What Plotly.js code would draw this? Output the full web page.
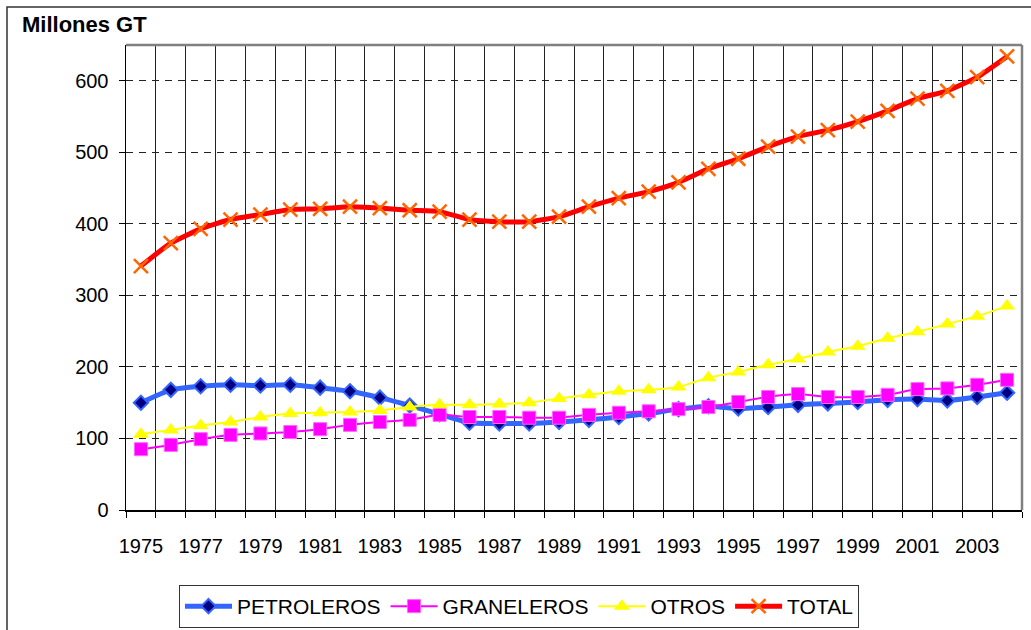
<!DOCTYPE html>
<html>
<head>
<meta charset="utf-8">
<script src="https://cdn.plot.ly/plotly-3.0.1.min.js"></script>
<style>
  html, body { margin: 0; padding: 0; background: #fff; }
  #chart { width: 1031px; height: 630px; }
</style>
</head>
<body>
<div id="chart"></div>
<script>
const years = [1975,1976,1977,1978,1979,1980,1981,1982,1983,1984,1985,1986,1987,1988,1989,
               1990,1991,1992,1993,1994,1995,1996,1997,1998,1999,2000,2001,2002,2003,2004];
const petroleros = [150,168,173,175,174,175,171,166,157,146,134,122,121,121,123,
                    126,130,135,141,145,142,144,147,149,151,154,155,153,158,164];
const graneleros = [85,91,99,105,107,109,113,119,123,126,133,130,130,129,129,
                    133,136,138,141,144,151,158,162,158,158,161,169,170,175,182];
const otros = [106,112,118,123,130,135,136,137,139,144,147,147,148,150,156,
               161,166,168,172,185,193,203,211,221,229,240,249,260,271,285];
const total = [341,373,393,406,413,420,421,424,422,419,417,406,403,403,410,
               424,436,445,458,477,491,508,522,531,543,558,575,586,605,634];
const xTickLabels = ['1975','1977','1979','1981','1983','1985','1987','1989','1991','1993','1995','1997','1999','2001','2003'];
const xTickVals = xTickLabels.map(Number);
const yTickVals = [0,100,200,300,400,500,600];

const FONT = '"Liberation Sans", Arial, sans-serif';

const traces = [
  {
    x: years, y: petroleros, name: 'PETROLEROS', type: 'scatter', mode: 'lines+markers',
    line: {color: '#3366FF', width: 5, shape: 'spline', smoothing: 0.5},
    marker: {symbol: 'diamond', size: 11, color: '#000080', line: {color: '#3366FF', width: 2}}
  },
  {
    x: years, y: graneleros, name: 'GRANELEROS', type: 'scatter', mode: 'lines+markers',
    line: {color: '#FF00FF', width: 2, shape: 'spline', smoothing: 0.5},
    marker: {symbol: 'square', size: 13, color: '#FF00FF', line: {color: '#FF66FF', width: 1}}
  },
  {
    x: years, y: otros, name: 'OTROS', type: 'scatter', mode: 'lines+markers',
    line: {color: '#FFFF00', width: 2, shape: 'spline', smoothing: 0.5},
    marker: {symbol: 'triangle-up', size: 14, color: '#FFFF00'}
  },
  {
    x: years, y: total, name: 'TOTAL', type: 'scatter', mode: 'lines+markers',
    line: {color: '#FF0000', width: 5, shape: 'spline', smoothing: 0.5},
    marker: {symbol: 'x-thin', size: 14, color: '#FF6600', line: {color: '#FF6600', width: 2.5}}
  }
];

const layout = {
  width: 1031, height: 630,
  margin: {l: 126, r: 9, t: 45, b: 120},
  paper_bgcolor: '#fff', plot_bgcolor: '#fff',
  font: {family: FONT, size: 20, color: '#000'},
  title: {
    text: '<b>Millones GT</b>', font: {family: FONT, size: 22, color: '#000'},
    xref: 'container', yref: 'container', x: 22/1031, xanchor: 'left', y: 1 - 24/630, yanchor: 'middle'
  },
  showlegend: true,
  legend: {
    orientation: 'h', xref: 'container', yref: 'container',
    x: 519/1031, xanchor: 'center', y: 1 - 585/630, yanchor: 'top',
    bordercolor: '#333', borderwidth: 1, bgcolor: '#fff',
    font: {family: FONT, size: 21, color: '#000'}, itemwidth: 47, traceorder: 'normal'
  },
  xaxis: {
    type: 'linear', range: [1974.5, 2004.5], fixedrange: true,
    tickmode: 'array', tickvals: xTickVals, ticktext: xTickLabels,
    ticks: 'outside', ticklen: 17, tickcolor: 'rgba(0,0,0,0)',
    showgrid: false, zeroline: false,
    showline: true, linecolor: '#000', linewidth: 1.5,
    tickfont: {family: FONT, size: 20, color: '#000'},
    minor: {tick0: 1974.5, dtick: 1, ticks: 'outside', ticklen: 6, tickcolor: '#000', tickwidth: 1,
            showgrid: true, gridcolor: '#222', gridwidth: 1}
  },
  yaxis: {
    range: [0, 650], fixedrange: true,
    tickmode: 'array', tickvals: yTickVals,
    ticks: 'outside', ticklen: 6, tickcolor: '#000',
    showgrid: true, gridcolor: '#222', gridwidth: 1, griddash: '7px,6px',
    zeroline: false, showline: true, linecolor: '#000', linewidth: 1.5,
    ticklabelstandoff: 6,
    tickfont: {family: FONT, size: 20, color: '#000'}
  },
  shapes: [
    {type: 'line', xref: 'paper', yref: 'paper', x0: 0, x1: 1, y0: 1, y1: 1,
     line: {color: '#808080', width: 2.5}},
    {type: 'line', xref: 'paper', yref: 'paper', x0: 1, x1: 1, y0: 0, y1: 1,
     line: {color: '#808080', width: 2.5}},
    {type: 'rect', xref: 'paper', yref: 'paper',
     x0: (7 - 126) / 896, x1: (1045 - 126) / 896, y0: (510 - 645) / 465, y1: (510 - 7) / 465,
     line: {color: '#333', width: 1.5}, fillcolor: 'rgba(0,0,0,0)', layer: 'above'}
  ]
};

Plotly.newPlot('chart', traces, layout, {displayModeBar: false, staticPlot: true});
</script>
</body>
</html>
